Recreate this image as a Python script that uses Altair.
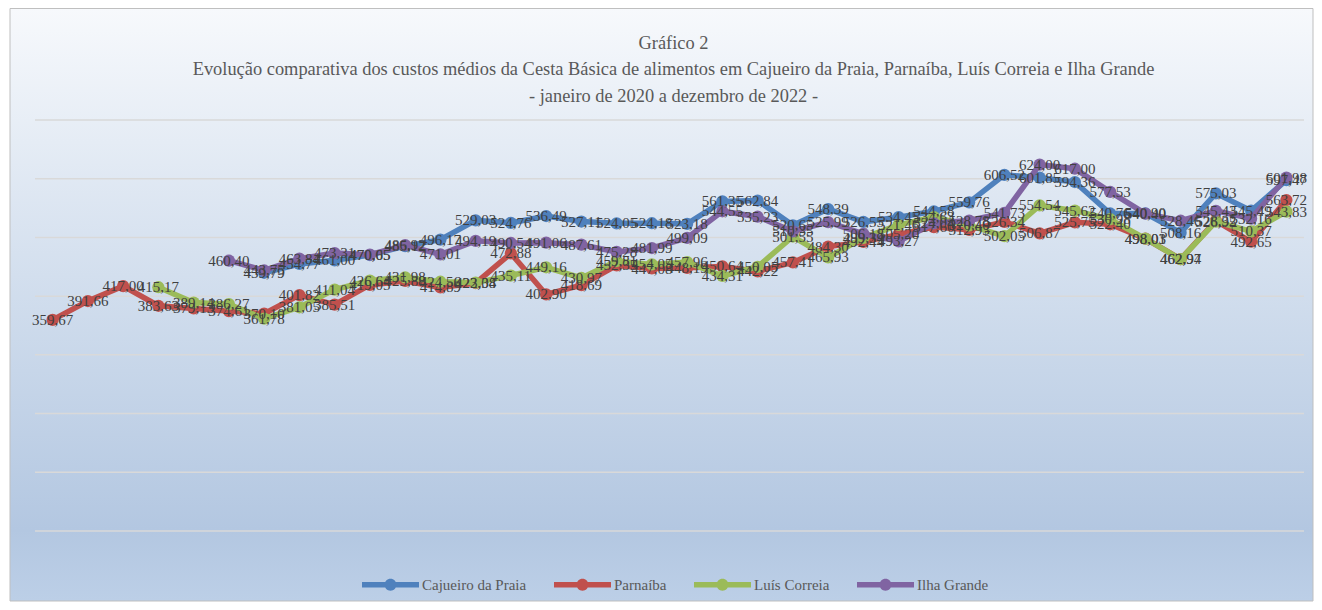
import json
import altair as alt
import pandas as pd

meses = ["jan/20", "fev", "mar", "abr", "mai", "jun", "jul", "ago", "set", "out", "nov", "dez",
         "jan/21", "fev", "mar", "abr", "mai", "jun", "jul", "ago", "set", "out", "nov", "dez",
         "jan/22", "fev", "mar", "abr", "mai", "jun", "jul", "ago", "set", "out", "nov", "dez"]

series = ["Cajueiro da Praia", "Parnaíba", "Luís Correia", "Ilha Grande"]
cores = ["#4f81bd", "#c0504d", "#9bbb59", "#8064a2"]

cajueiro = [None] * 6 + [439.79, 454.77, 461.00, 470.05, 485.12, 496.17,
                         529.03, 524.76, 536.49, 527.11, 524.05, 524.18, 523.18, 561.35, 562.84, 520.65, 548.39, 526.55,
                         534.45, 544.58, 559.76, 606.52, 601.85, 594.36, 540.76, 540.90, 508.16, 575.03, 545.49, 597.47]
parnaiba = [359.67, 391.66, 417.00, 383.63, 379.13, 374.61, 370.10, 401.82, 385.51, 419.05, 425.88, 414.89,
            422.38, 472.88, 402.90, 418.69, 452.35, 447.08, 448.19, 450.64, 442.22, 457.41, 484.30, 492.44,
            505.20, 517.60, 512.93, 526.34, 506.87, 525.75, 522.40, 498.03, 462.97, 528.32, 492.65, 563.72]
luis_correia = [None] * 3 + [415.17, 389.14, 386.27, 361.78, 381.05, 411.04, 426.64, 431.98, 424.56,
                             423.04, 435.11, 449.16, 430.97, 459.81, 454.05, 457.96, 434.31, 450.05, 501.55, 465.93, 499.34,
                             521.46, 534.63, 520.40, 502.05, 554.54, 545.62, 530.98, 498.01, 462.94, 526.95, 510.37, 543.83]
ilha_grande = [None] * 5 + [460.40, 443.75, 463.84, 473.31, 470.65, 486.92, 471.01,
                            494.19, 490.54, 491.06, 487.61, 475.28, 481.99, 499.09, 544.55, 535.23, 510.35, 525.99, 506.18,
                            493.27, 524.04, 528.78, 541.73, 624.00, 617.00, 577.53, 540.40, 528.46, 545.43, 532.16, 601.98]

grade = [0, 100, 200, 300, 400, 500, 600, 700]

titulo = ["Gráfico 2",
          "Evolução comparativa dos custos médios da Cesta Básica de alimentos em Cajueiro da Praia, Parnaíba, Luís Correia e Ilha Grande",
          "- janeiro de 2020 a dezembro de 2022 -"]

# ---- build table ----
rows = []
for nome, vals in zip(series, [cajueiro, parnaiba, luis_correia, ilha_grande]):
    for i, v in enumerate(vals):
        if v is None:
            continue
        rows.append({"i": i, "serie": nome, "valor": v,
                     "rotulo": f"{v:.2f}".replace(".", ",")})
df = pd.DataFrame(rows)
df_grid = pd.DataFrame({"v": grade})

W, H = 1269, 411
PL, PT, PR, PB = 27, 112, 10, 71

FONT = "Liberation Serif"

X = alt.X("i:O", scale=alt.Scale(type="point", padding=0.5),
          axis=alt.Axis(title=None, labelAngle=0, ticks=False, domain=False, grid=False,
                        labelFont=FONT, labelFontSize=11.5, labelColor="#595959", labelPadding=8,
                        labelExpr=json.dumps(meses) + "[datum.value]"))
Y = alt.Y("valor:Q", scale=alt.Scale(domain=[0, 700], nice=False, zero=True), axis=None)

path = ("M-1,-0.095H1V0.095H-1Z "
        "M0.21,0A0.21,0.21,0,1,1,-0.21,0A0.21,0.21,0,1,1,0.21,0Z")

COLOR = alt.Color("serie:N", scale=alt.Scale(domain=series, range=cores),
                  legend=alt.Legend(orient="none", legendX=327, legendY=436, direction="horizontal",
                                    title=None, symbolType=path, symbolSize=3249, symbolStrokeWidth=0,
                                    symbolOpacity=1,
                                    labelFont=FONT, labelFontSize=15, labelColor="#595959",
                                    labelOffset=3, columnPadding=27, padding=0))

fundo = alt.Chart(pd.DataFrame({"a": [0]})).mark_rect(
    color=alt.Gradient(gradient="linear", x1=0, x2=0, y1=0, y2=1,
                       stops=[alt.GradientStop(offset=0, color="#f7f9fc"),
                              alt.GradientStop(offset=0.45, color="#d3dfee"),
                              alt.GradientStop(offset=0.88, color="#b3c7e1"),
                              alt.GradientStop(offset=1, color="#bccfe7")]),
    stroke="#bfbfbf", strokeWidth=1, clip=False
).encode(x=alt.value(-PL + 2), x2=alt.value(W + PR - 1),
         y=alt.value(-PT + 0.5), y2=alt.value(H + PB - 1))

linhas_grade = alt.Chart(df_grid).mark_rule(color="#d9d9d9", strokeWidth=1.5).encode(
    y=alt.Y("v:Q", scale=alt.Scale(domain=[0, 700], nice=False), axis=None),
    x=alt.value(0), x2=alt.value(W))

camadas = [fundo, linhas_grade]
for nome in series:
    base = alt.Chart(df).transform_filter(alt.datum.serie == nome)
    pts = base.mark_point(filled=True, size=150, opacity=1).encode(x=X, y=Y, color=COLOR)
    lin = base.mark_line(strokeWidth=5.5).encode(x=X, y=Y, color=COLOR)
    camadas += [pts, lin]

rotulos = alt.Chart(df).mark_text(font=FONT, fontSize=15, color="#404040").encode(
    x=X, y=Y, text="rotulo:N")
camadas.append(rotulos)

chart = alt.layer(*camadas).properties(
    width=W, height=H,
    title=alt.Title(text=titulo, font=FONT, fontSize=18.4, fontWeight="normal", color="#595959",
                    lineHeight=26.5, anchor="middle", baseline="bottom", offset=0, dy=116, dx=4),
    autosize=alt.AutoSizeParams(type="none"),
    padding={"left": PL, "top": PT, "right": PR, "bottom": PB},
).configure_view(stroke=None).configure(background="white")

chart.save("out.html", embed_options={"renderer": "svg", "actions": False})
